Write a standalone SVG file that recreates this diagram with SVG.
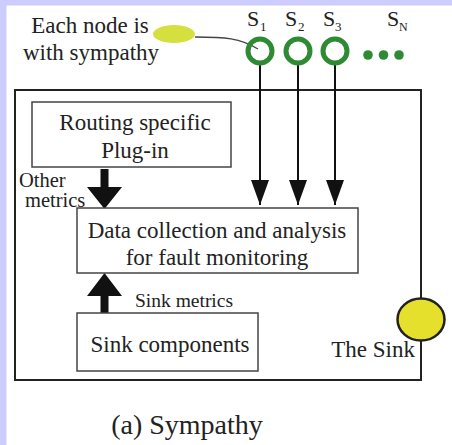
<svg xmlns="http://www.w3.org/2000/svg" width="452" height="445" viewBox="0 0 452 445">
<style>
.t{font-size:23px}
.box{fill:#fff;stroke:#444;stroke-width:1.5}
.ring{fill:none;stroke:#2e8b34;stroke-width:5}
.dot{fill:#2e8b34}
.thin{stroke:#111;stroke-width:2;fill:none}
.fat{fill:#111}
</style>
<defs>
<marker id="ah" viewBox="0 0 25 18" refX="25" refY="9" markerWidth="25" markerHeight="18" markerUnits="userSpaceOnUse" orient="auto"><path d="M0,0 L25,9 L0,18 Z" fill="#111"/></marker>
</defs>
<rect x="0" y="0" width="452" height="445" fill="#fff"/>
<rect x="0" y="0" width="452" height="5.5" fill="#ccccff"/>
<rect x="0" y="0" width="6.5" height="445" fill="#ccccff"/>

<g id="frame"><rect x="15" y="90" width="406" height="290" fill="none" stroke="#222" stroke-width="2"/></g>

<g id="connectors">
<path d="M195,37 C225,37 240,38 258,49" stroke="#444" stroke-width="1.3" fill="none"/>
<line class="thin" x1="260" y1="65" x2="260" y2="205" marker-end="url(#ah)"/>
<line class="thin" x1="298" y1="65" x2="298" y2="205" marker-end="url(#ah)"/>
<line class="thin" x1="335" y1="65" x2="335" y2="205" marker-end="url(#ah)"/>
<polygon class="fat" points="100.5,169 108.5,169 108.5,187 122,187 104.5,209 87,187 100.5,187"/>
<polygon class="fat" points="100.5,313 108.5,313 108.5,296 122,296 104.5,273 87,296 100.5,296"/>
</g>

<g font-family="Liberation Serif, Times New Roman, serif" fill="#222">
<g id="legend">
<text class="t" x="90" y="33" text-anchor="middle">Each node is</text>
<text class="t" x="91" y="60" text-anchor="middle">with sympathy</text>
<ellipse cx="174" cy="34" rx="21" ry="9" fill="#d5e03e"/>
</g>

<g id="s1"><circle class="ring" cx="260" cy="51" r="12"/><text x="247" y="26" font-size="22">S</text><text x="260" y="31" font-size="13">1</text></g>
<g id="s2"><circle class="ring" cx="298" cy="51" r="12"/><text x="285" y="26" font-size="22">S</text><text x="298" y="31" font-size="13">2</text></g>
<g id="s3"><circle class="ring" cx="335" cy="51" r="12"/><text x="323" y="26" font-size="22">S</text><text x="335" y="31" font-size="13">3</text></g>
<g id="sn"><circle class="dot" cx="368" cy="55" r="4.8"/><circle class="dot" cx="383.5" cy="55" r="4.8"/><circle class="dot" cx="399" cy="55" r="4.8"/><text x="387" y="26" font-size="22">S</text><text x="399" y="31" font-size="12">N</text></g>

<g id="routing">
<rect class="box" x="32" y="102" width="199" height="65"/>
<text class="t" x="135" y="130" text-anchor="middle">Routing specific</text>
<text class="t" x="135" y="158" text-anchor="middle">Plug-in</text>
</g>

<g id="other-label">
<text x="19" y="187" font-size="20.5">Other</text>
<text x="25" y="207" font-size="20.5">metrics</text>
</g>

<g id="data">
<rect class="box" x="77" y="208" width="281" height="65"/>
<text class="t" x="217" y="238" text-anchor="middle">Data collection and analysis</text>
<text class="t" x="217" y="265" text-anchor="middle">for fault monitoring</text>
</g>

<g id="sink-label"><text x="135" y="307" font-size="19.5">Sink metrics</text></g>

<g id="sinkcomp">
<rect class="box" x="77" y="313" width="181" height="58"/>
<text class="t" x="170" y="352" text-anchor="middle">Sink components</text>
</g>

<g id="sink">
<ellipse cx="421" cy="319.5" rx="23.5" ry="21" fill="#e5e02b" stroke="#222" stroke-width="2.5"/>
<text class="t" x="415" y="357" text-anchor="end">The Sink</text>
</g>

<text x="187" y="434" font-size="28" text-anchor="middle">(a) Sympathy</text>
</g>
</svg>
